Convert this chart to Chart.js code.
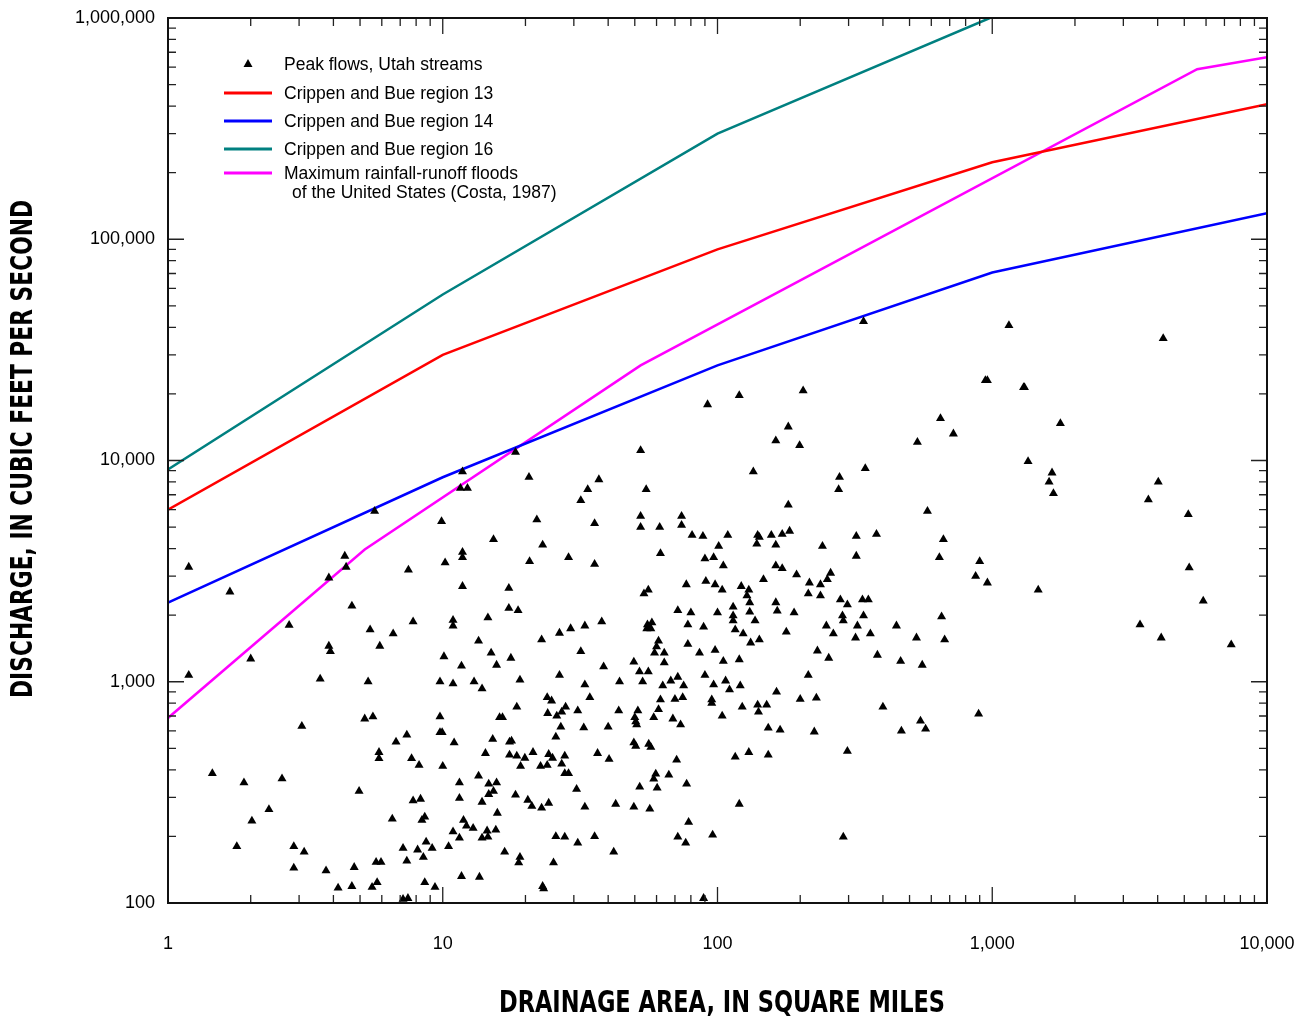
<!DOCTYPE html>
<html>
<head>
<meta charset="utf-8">
<script src="https://cdn.jsdelivr.net/npm/chart.js@4"></script>
<style>
  html, body { margin: 0; background: #fff; }
</style>
</head>
<body>
<canvas id="chart" width="1312" height="1017"></canvas>
<script>
// drainage area (sq mi), peak discharge (ft3/s)
const peakFlows = [
  [1.19,3300],[1.68,2550],[3.85,2950],[4.4,3700],[4.45,3300],[5.65,5900],[7.5,3200],[9.9,5300],[10.2,3450],
  [11.8,8900],[11.6,7500],[12.3,7500],[18.4,10900],[20.6,8400],[37,8200],[33.7,7400],[31.8,6600],[52.5,11100],
  [55,7400],[22,5400],[35.7,5200],[15.3,4400],[23.1,4150],[11.8,3850],[11.8,3650],[20.7,3500],[28.7,3650],
  [35.7,3400],[11.8,2700],[17.4,2650],[52.5,5600],[52.5,5000],[61.6,5000],[74,5600],[74,5100],[80.8,4600],
  [88.5,4550],[109,4600],[101,4100],[62,3800],[90,3600],[96.8,3650],[105,3350],[92,17900],[120,19700],
  [77,2750],[90.7,2850],[98,2750],[104,2600],[122,2700],[130,2600],[128,2450],[54,2500],[56,2600],
  [1.19,1070],[2.0,1270],[2.76,1800],[4.67,2200],[5.44,1720],[6.6,1650],[7.8,1870],[10.9,1900],[10.9,1790],
  [3.85,1450],[3.9,1370],[5.9,1450],[10.1,1300],[3.58,1030],[5.35,1000],[9.77,1000],[10.9,980],[5.2,680],
  [5.57,695],[9.77,695],[3.07,630],[9.77,590],[9.95,590],[7.4,575],[6.76,535],[11,530],[5.86,480],[5.86,450],
  [7.7,450],[8.2,420],[10,415],[1.45,385],[1.89,350],[2.6,365],[4.96,320],[7.8,290],[8.3,295],[2.33,265],
  [2.02,235],[6.55,240],[8.4,237],[8.6,245],[10.9,210],[1.78,180],[2.87,180],[3.13,170],[7.17,177],[8.1,174],
  [8.7,189],[9.15,177],[10.5,180],[7.4,155],[8.5,161],[2.87,144],[3.76,140],[4.76,145],[5.72,153],[5.96,153],
  [4.67,119],[4.16,117],[5.53,118],[5.77,124],[8.6,124],[9.37,118],[7.17,104],[7.47,105],
  [17.4,2150],[18.8,2100],[14.6,1950],[13.5,1530],[15,1350],[17.7,1280],[15.7,1190],[11.7,1180],[13,1000],
  [13.9,930],[19.1,1020],[22.9,1550],[26.6,1660],[29.2,1740],[32.9,1790],[37.9,1870],[31.8,1370],[26.6,1070],
  [32.9,970],[24,850],[24.9,820],[34.3,850],[18.6,770],[24.1,720],[26,700],[27.1,730],[28,770],[31,740],
  [16.1,690],[16.5,690],[26.9,625],[32.6,620],[40,625],[38.5,1170],[43.7,740],[44,1000],[49.6,1230],[52,1110],
  [56,1110],[53.4,1000],[55.6,1810],[57.7,1850],[55.3,1740],[57.2,1740],[61,1530],[60,1440],[59,1350],[64,1350],
  [64,1220],[71.7,2100],[80,2050],[78,1810],[78,1480],[89,1770],[100,2050],[114,2180],[114,1990],[114,1890],
  [116,1720],[124,1650],[131,2280],[131,2070],[98,1390],[86,1350],[105,1240],[120,1260],[90,1070],[71.7,1050],
  [67.6,1010],[63.2,960],[75.3,960],[74.7,850],[70,835],[62,830],[61,750],[51.3,740],[50,690],[50.4,660],
  [50.8,640],[58.6,690],[68.8,680],[73.4,640],[96.8,970],[107,1010],[110.6,920],[121,960],[95.3,830],[95.3,800],
  [104,700],[123,770],[14.3,475],[15.2,550],[17.5,535],[17.8,540],[17.5,467],[18.6,462],[19.9,452],[21.3,480],
  [19.2,415],[22.7,415],[24,420],[24.3,470],[25.1,452],[27.8,462],[27.1,425],[27.8,385],[28.7,385],[25.8,563],
  [36.6,475],[40.3,447],[49.6,530],[50.4,512],[56.2,523],[57.2,506],[71,443],[116,457],[130,480],[13.5,375],
  [11.5,350],[14.7,345],[15.7,350],[15.3,320],[14.7,310],[11.5,298],[13.9,286],[18.4,308],[20.4,292],[21.1,274],
  [22.9,269],[24.3,283],[30.7,327],[32.9,272],[42.6,280],[49.6,272],[56.7,266],[59.6,383],[58.6,364],[60.3,331],
  [66.5,379],[52.1,335],[77.2,345],[120,280],[15.8,255],[11.9,237],[12.2,223],[12.9,218],[11.5,197],[14.5,212],
  [15.6,214],[13.9,197],[14.6,199],[16.8,170],[19.1,161],[18.9,152],[25.8,200],[27.8,199],[31,187],[35.7,200],
  [41.9,170],[25.3,152],[78.5,232],[71.7,199],[76.6,187],[96,203],[11.7,132],[13.6,131],[23.1,119],[23.3,116],
  [89,105],
  [340,42500],[1150,40800],[944,23000],[960,23000],[1300,21400],[1310,21400],[205,20700],[181,14200],[163,12300],
  [199,11700],[648,15500],[722,13200],[534,12100],[1350,9900],[135,8900],[278,8400],[276,7400],[345,9200],
  [181,6300],[581,5900],[140,4600],[142,4500],[157,4600],[172,4650],[183,4800],[139,4200],[163,4150],[241,4100],
  [320,4550],[379,4650],[320,3700],[664,4400],[642,3650],[900,3500],[870,3000],[960,2800],[163,3350],[172,3250],
  [147,2900],[194,3050],[216,2800],[237,2750],[251,2900],[258,3100],[214,2500],[237,2450],[1470,2600],[337,2350],
  [354,2350],[280,2350],[163,2280],[297,2230],[165,2090],[190,2050],[285,1990],[287,1890],[340,1990],[654,1970],
  [137,1890],[132,1500],[142,1550],[178,1680],[249,1790],[264,1650],[323,1790],[318,1580],[360,1650],[448,1790],
  [530,1580],[671,1550],[231,1380],[254,1280],[382,1320],[464,1240],[556,1190],[214,1070],[164,900],[200,835],
  [229,845],[140,785],[151,785],[141,730],[400,770],[892,715],[548,665],[572,612],[467,600],[153,619],[169,606],
  [225,594],[153,467],[297,486],[287,199],
  [4190,35600],[1770,14700],[1650,8800],[1610,8000],[1670,7100],[4020,8000],[3700,6650],[5170,5700],[5210,3280],
  [5860,2320],[3450,1810],[4120,1580],[7410,1470]
];

const region13 = [[1, 6000], [10, 30000], [100, 90000], [1000, 223000], [10000, 408000]];
const region14 = [[1, 2280], [10, 8400], [100, 26900], [1000, 70700], [10000, 131000]];
const region16 = [[1, 9100], [10, 56300], [100, 300000], [980, 1000000]];
const costa1987 = [[1, 686], [5.2, 3960], [52.5, 26900], [5570, 587000], [10000, 665000]];

const areaTicks = [1, 10, 100, 1000, 10000];
const flowTicks = [100, 1000, 10000, 100000, 1000000];

const xTitle = 'DRAINAGE AREA, IN SQUARE MILES';
const yTitle = 'DISCHARGE, IN CUBIC FEET PER SECOND';
const legendLabels = [
  'Peak flows, Utah streams',
  'Crippen and Bue region 13',
  'Crippen and Bue region 14',
  'Crippen and Bue region 16',
  ['Maximum rainfall-runoff floods', 'of the United States (Costa, 1987)']
];

const toXY = arr => arr.map(([x, y]) => ({ x, y }));
const fmt = v => Number(v).toLocaleString('en-US');
const textFont = '"Liberation Sans", Arial, sans-serif';
const titleFont = '"DejaVu Sans Condensed", "Liberation Sans Narrow", sans-serif';

function curve(label, data, color) {
  return {
    label, data: toXY(data), showLine: true, borderColor: color, backgroundColor: color,
    borderWidth: 2.5, pointRadius: 0, tension: 0, fill: false
  };
}

function noPad(s) {
  s.paddingLeft = 0; s.paddingRight = 0; s.paddingTop = 0; s.paddingBottom = 0;
}

// inward tick marks on all four sides plus the frame
const frameTicks = {
  id: 'frameTicks',
  afterDatasetsDraw(chart) {
    const { ctx, chartArea: a, scales: { x, y } } = chart;
    ctx.save();
    ctx.strokeStyle = '#222';
    ctx.lineWidth = 1.3;
    ctx.beginPath();
    areaTicks.forEach((d, i) => {
      for (let m = 1; m <= 9; m++) {
        if (m > 1 && i === areaTicks.length - 1) break;
        const px = x.getPixelForValue(d * m);
        const len = m === 1 ? 16 : 8;
        ctx.moveTo(px, a.bottom); ctx.lineTo(px, a.bottom - len);
        ctx.moveTo(px, a.top); ctx.lineTo(px, a.top + len);
      }
    });
    flowTicks.forEach((d, i) => {
      for (let m = 1; m <= 9; m++) {
        if (m > 1 && i === flowTicks.length - 1) break;
        const py = y.getPixelForValue(d * m);
        const len = m === 1 ? 16 : 8;
        ctx.moveTo(a.left, py); ctx.lineTo(a.left + len, py);
        ctx.moveTo(a.right, py); ctx.lineTo(a.right - len, py);
      }
    });
    ctx.stroke();
    ctx.lineWidth = 2;
    ctx.strokeStyle = '#111';
    ctx.strokeRect(a.left, a.top, a.right - a.left, a.bottom - a.top);
    ctx.restore();
  }
};

// condensed bold axis titles, squeezed to the reference widths
const axisTitles = {
  id: 'axisTitles',
  afterDraw(chart) {
    const { ctx } = chart;
    ctx.save();
    ctx.font = 'bold 30px ' + titleFont;
    ctx.fillStyle = '#000';
    ctx.textAlign = 'center';
    ctx.textBaseline = 'middle';
    let w = ctx.measureText(xTitle).width;
    ctx.save();
    ctx.translate(722, 1004);
    ctx.scale(446 / w, 1);
    ctx.fillText(xTitle, 0, 0);
    ctx.restore();
    w = ctx.measureText(yTitle).width;
    ctx.save();
    ctx.translate(24, 449);
    ctx.rotate(-Math.PI / 2);
    ctx.scale(498 / w, 1);
    ctx.fillText(yTitle, 0, 0);
    ctx.restore();
    ctx.restore();
  }
};

const legendBox = {
  id: 'legendBox',
  afterDraw(chart) {
    const { ctx } = chart;
    const rows = [64, 93, 121, 149, 173];
    ctx.save();
    ctx.font = '17.5px ' + textFont;
    ctx.fillStyle = '#000';
    ctx.textBaseline = 'middle';
    chart.data.datasets.forEach((ds, i) => {
      const yy = rows[i];
      if (i === 0) {
        ctx.beginPath();
        ctx.moveTo(248, yy - 5);
        ctx.lineTo(252.5, yy + 3);
        ctx.lineTo(243.5, yy + 3);
        ctx.closePath();
        ctx.fill();
      } else {
        ctx.strokeStyle = ds.borderColor;
        ctx.lineWidth = 3;
        ctx.beginPath();
        ctx.moveTo(224, yy); ctx.lineTo(272, yy);
        ctx.stroke();
      }
      const lbl = legendLabels[i];
      if (Array.isArray(lbl)) {
        ctx.fillText(lbl[0], 284, yy + 1);
        ctx.fillText(lbl[1], 292, yy + 20);
      } else {
        ctx.fillText(lbl, 284, yy + 1);
      }
    });
    ctx.restore();
  }
};

new Chart(document.getElementById('chart'), {
  type: 'scatter',
  data: {
    datasets: [
      {
        label: 'Peak flows, Utah streams', data: toXY(peakFlows),
        pointStyle: 'triangle', pointRadius: 5.2, pointBorderWidth: 0,
        backgroundColor: '#000', borderColor: '#000'
      },
      curve('Crippen and Bue region 13', region13, '#ff0000'),
      curve('Crippen and Bue region 14', region14, '#0000ff'),
      curve('Crippen and Bue region 16', region16, '#008080'),
      curve('Maximum rainfall-runoff floods of the United States (Costa, 1987)', costa1987, '#ff00ff')
    ]
  },
  options: {
    responsive: false,
    animation: false,
    layout: { padding: { top: 18, right: 45, left: 0, bottom: 0 } },
    plugins: { legend: { display: false }, tooltip: { enabled: false } },
    scales: {
      x: {
        type: 'logarithmic', position: 'bottom', min: 1, max: 10000,
        afterBuildTicks: s => { s.ticks = areaTicks.map(v => ({ value: v })); },
        afterFit: s => { s.height = 114; noPad(s); },
        grid: { display: false, drawTicks: false },
        border: { display: false },
        ticks: {
          padding: 30, color: '#000', maxRotation: 0, autoSkip: false,
          font: { family: textFont, size: 18 }, callback: v => fmt(v)
        }
      },
      y: {
        type: 'logarithmic', position: 'left', min: 100, max: 1000000,
        afterBuildTicks: s => { s.ticks = flowTicks.map(v => ({ value: v })); },
        afterFit: s => { s.width = 168; noPad(s); },
        grid: { display: false, drawTicks: false },
        border: { display: false },
        ticks: {
          padding: 13, color: '#000', autoSkip: false,
          font: { family: textFont, size: 18 }, callback: v => fmt(v)
        }
      }
    }
  },
  plugins: [frameTicks, axisTitles, legendBox]
});
</script>
</body>
</html>
